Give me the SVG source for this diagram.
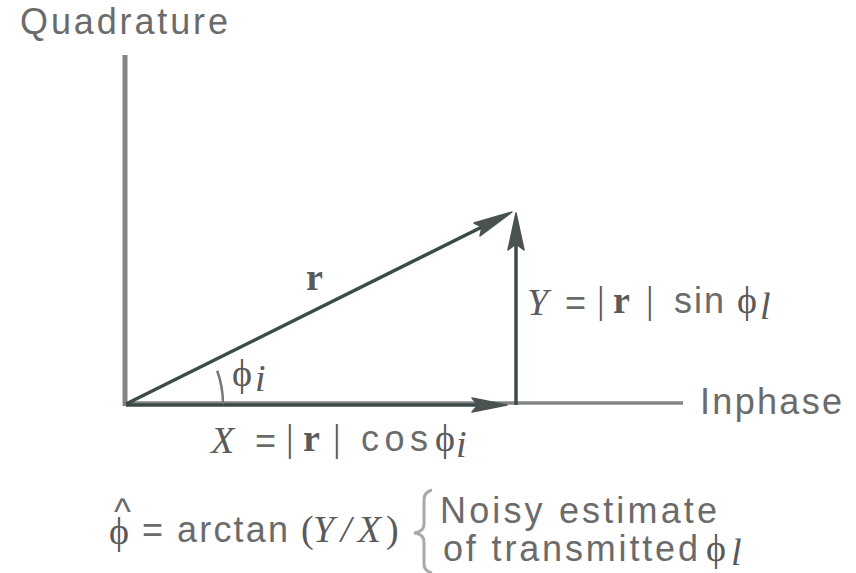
<svg xmlns="http://www.w3.org/2000/svg" width="856" height="573" viewBox="0 0 856 573">
<style>
.sans{font-family:"Liberation Sans",Arial,sans-serif;font-size:36px;fill:#6b6b6b}
.ser{font-family:"Liberation Serif","DejaVu Serif",serif;font-size:38px;fill:#5a5a5a}
.it{font-style:italic}
.bd{font-weight:bold}
.axis{stroke:#858585;fill:none}
.vec{stroke:#3d4a4a;stroke-width:3.5;fill:none}
.head{fill:#4a5252;stroke:#4a5252;stroke-width:1.5;stroke-linejoin:round}
</style>
<rect width="856" height="573" fill="#ffffff"/>
<g id="axes">
<line class="axis" x1="125" y1="55" x2="125" y2="406" stroke-width="5"/>
<line class="axis" x1="124" y1="403" x2="683" y2="403" stroke-width="3.5"/>
</g>
<g id="connectors">
<line class="vec" x1="126" y1="405" x2="495" y2="405"/>
<polygon class="head" points="507,405 472,398 478,405 472,412"/>
<line class="vec" x1="126" y1="404" x2="496" y2="220"/>
<polygon class="head" points="512,212 474,223 482,227 480,236"/>
<line class="vec" x1="516" y1="405" x2="516" y2="232"/>
<polygon class="head" points="516,213 508,250 516,244 524,250"/>
<path d="M217.2,370.8 A97,97 0 0 1 223,404" stroke="#777" stroke-width="2.5" fill="none"/>
<path d="M432,490 Q424,492 424,500 L424,524 Q424,532 414,533 Q424,534 424,542 L424,564 Q424,571 432,573" stroke="#aaaaaa" stroke-width="3" fill="none"/>
</g>
<g id="quadrature-label"><text class="sans" x="20" y="34" textLength="208" lengthAdjust="spacing">Quadrature</text></g>
<g id="inphase-label"><text class="sans" x="700" y="414" textLength="142" lengthAdjust="spacing">Inphase</text></g>
<g id="r-label"><text class="ser bd" x="306" y="290" font-size="36">r</text></g>
<g id="angle-label">
<text class="ser" x="232" y="386" font-size="30">ϕ</text>
<text class="ser it" x="255" y="391" font-size="16">i</text>
</g>
<g id="y-label">
<text class="ser it" x="527" y="315">Y</text>
<text class="sans" x="565" y="315">=</text>
<text class="ser" x="597" y="313">|</text>
<text class="ser bd" x="613" y="313" font-size="36">r</text>
<text class="ser" x="646" y="313">|</text>
<text class="sans" x="674" y="313" textLength="50" lengthAdjust="spacing">sin</text>
<text class="ser" x="737" y="313" font-size="30">ϕ</text>
<text class="ser it" x="760" y="319" font-size="16">l</text>
</g>
<g id="x-label">
<text class="ser it" x="211" y="453">X</text>
<text class="sans" x="255" y="453">=</text>
<text class="ser" x="286" y="451">|</text>
<text class="ser bd" x="303" y="451" font-size="36">r</text>
<text class="ser" x="333" y="451">|</text>
<text class="sans" x="361" y="451" textLength="67" lengthAdjust="spacing">cos</text>
<text class="ser" x="435" y="451" font-size="30">ϕ</text>
<text class="ser it" x="456" y="457" font-size="16">i</text>
</g>
<g id="estimate">
<text class="ser" x="109" y="544" font-size="30">ϕ</text>
<text class="sans" x="114" y="524" font-size="16">^</text>
<text class="sans" x="142" y="542">=</text>
<text class="sans" x="177" y="542" textLength="111" lengthAdjust="spacing">arctan</text>
<text class="ser" x="301" y="542">(</text>
<text class="ser it" x="313" y="542" font-size="36" textLength="68" lengthAdjust="spacing">Y/X</text>
<text class="ser" x="386" y="542">)</text>
<text class="sans" x="440" y="523" font-size="34" textLength="277" lengthAdjust="spacing">Noisy estimate</text>
<text class="sans" x="443" y="561" font-size="34" textLength="255" lengthAdjust="spacing">of transmitted</text>
<text class="ser" x="706" y="561" font-size="28">ϕ</text>
<text class="ser it" x="731" y="565" font-size="15">l</text>
</g>
</svg>
